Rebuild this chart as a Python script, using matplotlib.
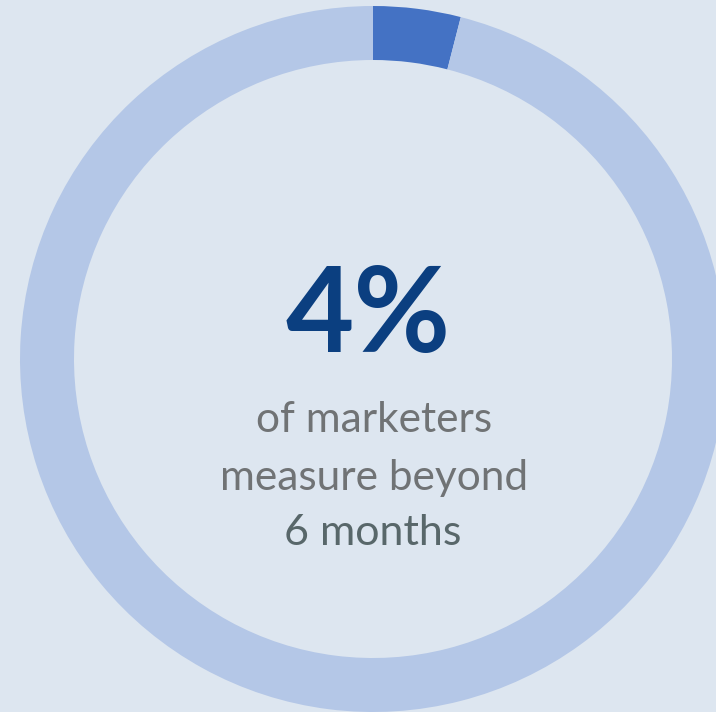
import matplotlib.pyplot as plt

share = [4, 96]
big_label = '4%'
caption = ['of marketers', 'measure beyond']
caption_bold = '6 months'

BG = '#dde6f0'
RING = '#b4c7e7'
HILITE = '#4472c4'
NAVY = '#0b3f80'

fig = plt.figure(figsize=(7.16, 7.12), dpi=100, facecolor=BG)
ax = fig.add_axes([0, 0, 1, 1])
ax.set_facecolor(BG)

# donut, working in pixel units (y measured from the bottom)
ax.pie(share, radius=353, center=(373, 353), startangle=90, counterclock=False,
       colors=[HILITE, RING], wedgeprops=dict(width=54, linewidth=0))
ax.set_xlim(0, 716)
ax.set_ylim(0, 712)
ax.set_aspect('equal')
ax.set_axis_off()

ax.text(368, 360, big_label, ha='center', va='baseline', fontsize=85,
        family='Lato', fontweight='bold', color=NAVY)
for i, line in enumerate(caption):
    ax.text(374, 280 - i * 58, line, ha='center', va='baseline', fontsize=30.5,
            family='Lato', fontweight='normal', color='#707375')
ax.text(373, 167, caption_bold, ha='center', va='baseline', fontsize=31,
        family='Lato', fontweight='normal', color='#58676a')

fig.savefig('out.png', dpi=100, facecolor=BG)
